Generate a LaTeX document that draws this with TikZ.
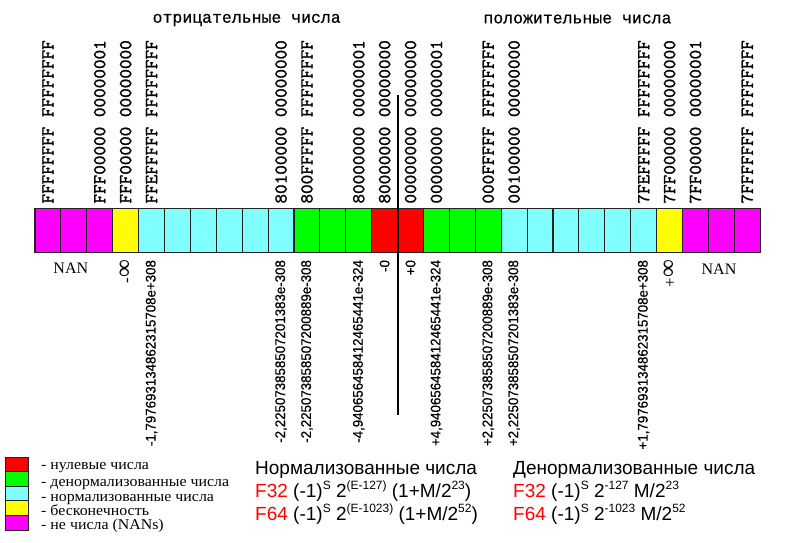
\documentclass[tikz,border=0pt]{standalone}
\usepackage{fontspec}
\setmainfont{Liberation Serif}
\newfontfamily\titlefont[FakeBold=0.6]{Liberation Mono}
\newfontfamily\hexfont[FakeBold=1.2]{lmmono10-regular.otf}
\newfontfamily\numfont[FakeStretch=0.95,FakeBold=0.5]{Liberation Sans}
\newfontfamily\formfont{Liberation Sans}
\newfontfamily\legfont[FakeStretch=1.06]{Liberation Serif}
\usetikzlibrary{calc}
\definecolor{cmag}{HTML}{FF00FF}
\definecolor{cyel}{HTML}{FFFF00}
\definecolor{ccya}{HTML}{80FFFF}
\definecolor{cgrn}{HTML}{00FF00}
\definecolor{cred}{HTML}{FF0000}
\definecolor{cborder}{HTML}{222222}
\newcommand{\supx}[1]{\raisebox{0.42em}{\fontsize{12}{12}\selectfont #1}}
\newcommand{\infsym}{{\fontsize{25}{25}\selectfont ∞}}
\tikzset{
  cell/.style={draw=cborder, line width=1.1pt, minimum width=25.9pt, minimum height=44pt, inner sep=0pt},
  hexlab/.style={rotate=90, anchor=west, inner sep=0pt, font=\hexfont\fontsize{18.3}{18.3}\selectfont},
  numlab/.style={rotate=90, anchor=east, inner sep=0pt, font=\numfont\fontsize{14}{14}\selectfont},
  inflab/.style={rotate=90, anchor=east, inner sep=0pt, font=\fontsize{17}{17}\selectfont},
  title/.style={inner sep=0pt, font=\titlefont\fontsize{16.5}{16.5}\selectfont},
  nanlab/.style={inner sep=0pt, font=\fontsize{16}{16}\selectfont},
  legbox/.style={draw=cborder, line width=0.8pt, minimum width=23pt, minimum height=14.6pt, inner sep=0pt},
  legtext/.style={anchor=base west, inner sep=0pt, font=\legfont\fontsize{15}{15}\selectfont},
  formtext/.style={anchor=base west, inner sep=0pt, font=\formfont\fontsize{19}{19}\selectfont},
}
\begin{document}
\begin{tikzpicture}[x=1pt,y=-1pt]
\useasboundingbox (0,0) rectangle (792,543);
% cells
\foreach \col [count=\i from 0] in {cmag,cmag,cmag,cyel,ccya,ccya,ccya,ccya,ccya,ccya,cgrn,cgrn,cgrn,cred,cred,cgrn,cgrn,cgrn,ccya,ccya,ccya,ccya,ccya,ccya,cyel,cmag,cmag,cmag}
  \node[cell, fill=\col] (c\i) at ({35+25.9*\i+12.95}, 230.3) {};
% titles
\node[title] (tneg) at (246.7,20) {отрицательные числа};
\node[title] (tpos) at (577.5,19) {положительные числа};
% top hex labels
\foreach \i/\t in {0/FFFFFFFF FFFFFFFF, 2/FFF00000 00000001, 3/FFF00000 00000000, 4/FFEFFFFF FFFFFFFF,
  9/80100000 00000000, 10/800FFFFF FFFFFFFF, 12/80000000 00000001, 13/80000000 00000000,
  14/00000000 00000000, 15/00000000 00000001, 17/000FFFFF FFFFFFFF, 18/00100000 00000000,
  23/7FEFFFFF FFFFFFFF, 24/7FF00000 00000000, 25/7FF00000 00000001, 27/7FFFFFFF FFFFFFFF}
  \node[hexlab] (h\i) at ($(c\i.north)+(0,-4)$) {\t};
% bottom labels
\foreach \i/\t in {4/-1{,}797693134862315708e+308, 9/-2{,}225073858507201383e-308,
  10/-2{,}225073858507200889e-308, 12/-4{,}940656458412465441e-324, 13/-0, 14/+0,
  15/+4{,}940656458412465441e-324, 17/+2{,}225073858507200889e-308,
  18/+2{,}225073858507201383e-308, 23/+1{,}797693134862315708e+308}
  \node[numlab] (b\i) at ($(c\i.south)+(0,7)$) {\t};
\node[inflab] (b3) at ($(c3.south)+(0,7)$) {-\infsym};
\node[inflab] (b24) at ($(c24.south)+(0,7)$) {+\infsym};
\node[nanlab] (nanl) at (70.8,268) {NAN};
\node[nanlab] (nanr) at (719,269) {NAN};
% zero line
\coordinate (vtop) at (397.8,95);
\coordinate (vbot) at (397.8,415);
\draw[line width=2pt] (vtop) -- (vbot);
% legend
\foreach \col/\t/\yb [count=\k] in {cred/- нулевые числа/469.5, cgrn/- денормализованные числа/486, ccya/- нормализованные числа/501, cyel/- бесконечность/515.5, cmag/- не числа (NANs)/529}{
  \node[legbox, fill=\col] (l\k) at (16.5, {457+14.6*(\k-0.5)}) {};
  \node[legtext] (lt\k) at (41,\yb) {\t};
}
% formulas
\node[formtext] (fn) at (255,474.3) {Нормализованные числа};
\node[formtext] (fn32) at (255,497) {\textcolor{cred}{F32} (-1)\supx{S} 2\supx{(E-127)} (1+M/2\supx{23})};
\node[formtext] (fn64) at (255,520) {\textcolor{cred}{F64} (-1)\supx{S} 2\supx{(E-1023)} (1+M/2\supx{52})};
\node[formtext] (fd) at (513,474.3) {Денормализованные числа};
\node[formtext] (fd32) at (513,497) {\textcolor{cred}{F32} (-1)\supx{S} 2\supx{-127} M/2\supx{23}};
\node[formtext] (fd64) at (513,520) {\textcolor{cred}{F64} (-1)\supx{S} 2\supx{-1023} M/2\supx{52}};
\end{tikzpicture}
\end{document}
